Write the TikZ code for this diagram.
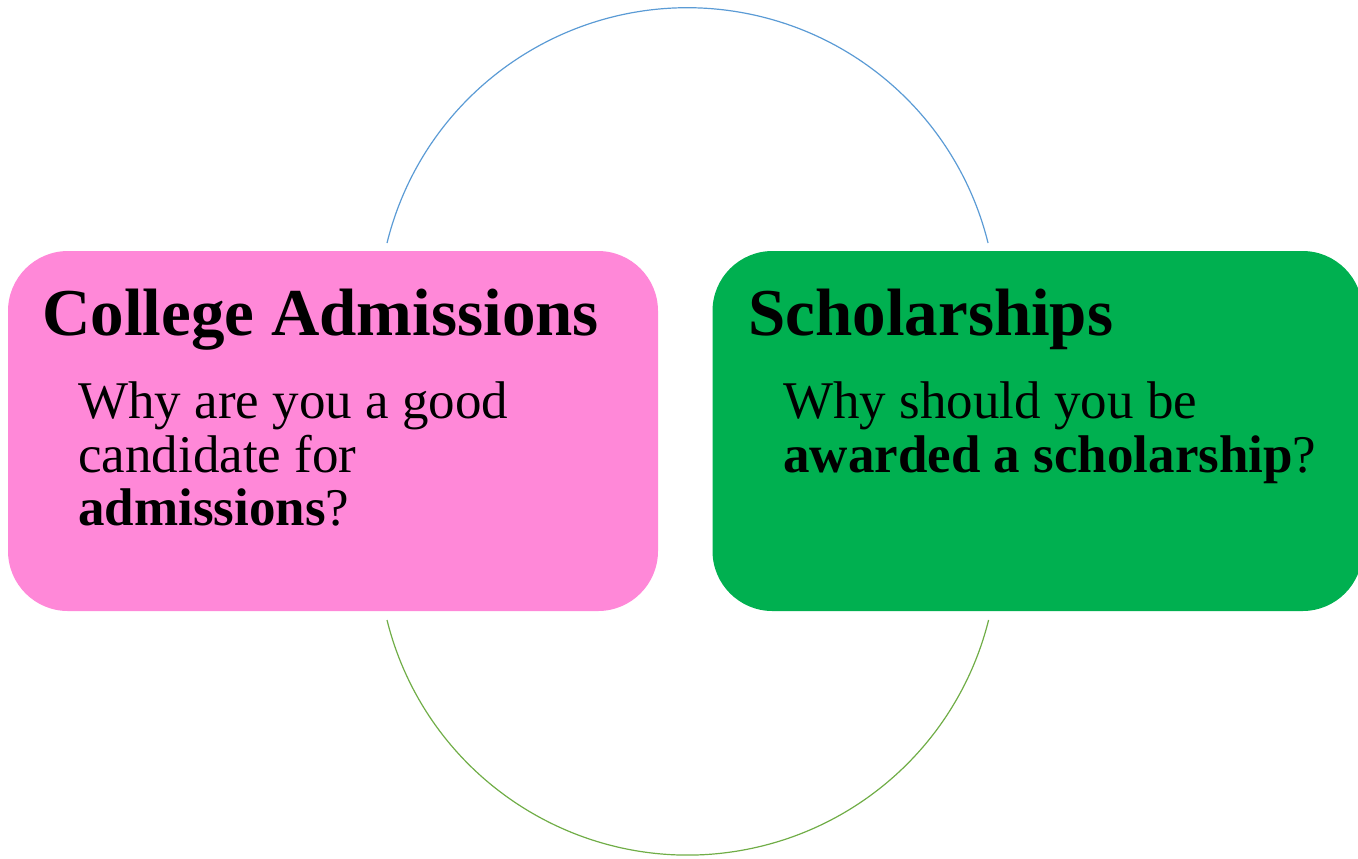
\documentclass[tikz,border=0pt]{standalone}
\usepackage{fontspec}
\setmainfont{Liberation Serif}
\usetikzlibrary{positioning}
\definecolor{pinkbox}{RGB}{255,136,216}
\definecolor{greenbox}{RGB}{0,176,80}
\definecolor{arcblue}{RGB}{91,155,213}
\definecolor{arcgreen}{RGB}{112,173,71}

\begin{document}
\begin{tikzpicture}[x=0.5pt, y=-0.5pt]
		\useasboundingbox (0,0) rectangle (1358,858);
		\begin{scope}[every node/.style={rounded corners=30pt, minimum width=325pt, minimum height=180pt, inner sep=0pt}]
			\node[fill=pinkbox] (L) at (333,431) {};
			\node[fill=greenbox] (R) at (1037.5,431) {};
		\end{scope}

		\begin{scope}[every node/.style={anchor=base west, inner sep=0pt}]
			\node[font=\fontsize{33.5}{33.5}\selectfont\bfseries] (LT) at (42,335) {College Admissions};
			\node[font=\fontsize{26.5}{26.5}\selectfont] (L1) at (78,418) {Why are you a good};
			\node[font=\fontsize{26.5}{26.5}\selectfont] (L2) at (78,472) {candidate for};
			\node[font=\fontsize{26.5}{26.5}\selectfont] (L3) at (78,525) {\textbf{admissions}?};

			\node[font=\fontsize{33.5}{33.5}\selectfont\bfseries] (RT) at (748,335) {Scholarships};
			\node[font=\fontsize{26.5}{26.5}\selectfont] (R1) at (783,418) {Why should you be};
			\node[font=\fontsize{26.5}{26.5}\selectfont] (R2) at (783,472) {\textbf{awarded a scholarship}?};
		\end{scope}

		\begin{scope}[line width=0.6pt]
			\coordinate (TA) at (387,243);
			\coordinate (BA) at (387,620);
			\draw[arcblue] (TA) arc[start angle=166.1, end angle=13.9, radius=154.8pt];
			\draw[arcgreen] (BA) arc[start angle=194, end angle=346, radius=155pt];
		\end{scope}
		\end{tikzpicture}
\end{document}
